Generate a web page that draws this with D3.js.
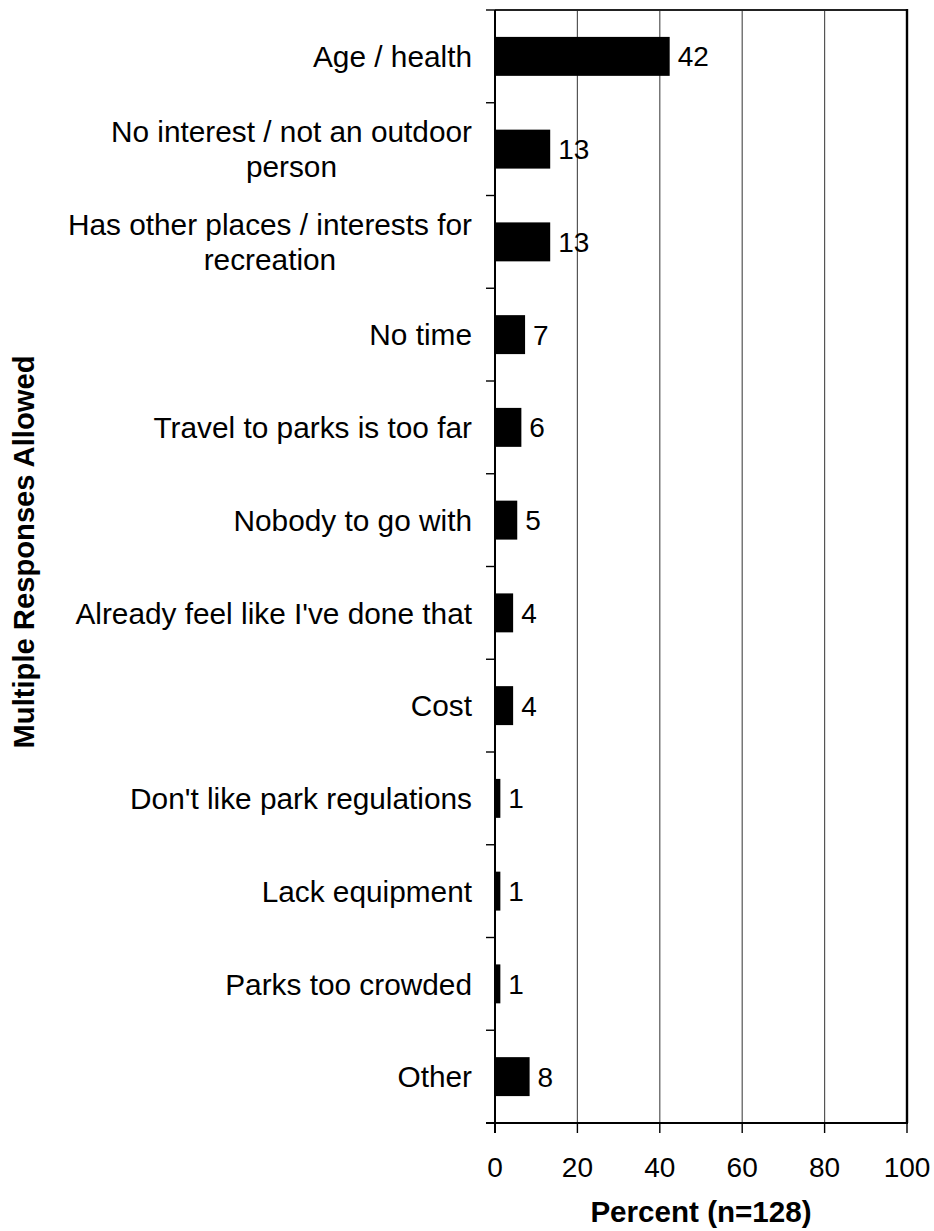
<!DOCTYPE html>
<html>
<head>
<meta charset="utf-8">
<script src="https://cdn.jsdelivr.net/npm/d3@7"></script>
<style>
  html, body { margin: 0; padding: 0; background: #fff; }
  svg { display: block; font-family: "Liberation Sans", Arial, sans-serif; }
</style>
</head>
<body>
<svg id="chart" width="934" height="1231"></svg>
<script>
const categories = [
  "Age / health",
  "No interest / not an outdoor\nperson",
  "Has other places / interests for\nrecreation",
  "No time",
  "Travel to parks is too far",
  "Nobody to go with",
  "Already feel like I've done that",
  "Cost",
  "Don't like park regulations",
  "Lack equipment",
  "Parks too crowded",
  "Other"
];
const values = [42.4, 13.4, 13.4, 7.3, 6.4, 5.4, 4.4, 4.4, 1.3, 1.3, 1.3, 8.4];
const valueLabels = ["42", "13", "13", "7", "6", "5", "4", "4", "1", "1", "1", "8"];
const xTicks = [0, 20, 40, 60, 80, 100];
const xTitle = "Percent (n=128)";
const yTitle = "Multiple Responses Allowed";

const svg = d3.select("#chart");
const m = { left: 495, right: 907, top: 10, bottom: 1123 };

const x = d3.scaleLinear().domain([0, 100]).range([m.left, m.right]);
const y = d3.scaleBand().domain(categories).range([m.top, m.bottom]).paddingInner(0.58).paddingOuter(0.29);
const band = d3.scaleBand().domain(categories).range([m.top, m.bottom]);

// gridlines
svg.append("g").selectAll("line").data(xTicks.filter(t => t > 0 && t < 100)).join("line")
  .attr("x1", d => x(d)).attr("x2", d => x(d))
  .attr("y1", m.top).attr("y2", m.bottom)
  .attr("stroke", "#555").attr("stroke-width", 1.2);

// top border
svg.append("line").attr("x1", m.left).attr("x2", m.right).attr("y1", m.top).attr("y2", m.top)
  .attr("stroke", "#222").attr("stroke-width", 1.8);
// right border
svg.append("line").attr("x1", m.right).attr("x2", m.right).attr("y1", m.top - 1).attr("y2", m.bottom)
  .attr("stroke", "#000").attr("stroke-width", 2.4);

// bars
svg.append("g").selectAll("rect").data(categories).join("rect")
  .attr("x", x(0))
  .attr("y", d => y(d))
  .attr("width", (d, i) => x(values[i]) - x(0))
  .attr("height", y.bandwidth())
  .attr("fill", "#000");

// value labels
svg.append("g").selectAll("text").data(categories).join("text")
  .attr("x", (d, i) => x(values[i]) + 8)
  .attr("y", d => y(d) + y.bandwidth() / 2)
  .attr("dy", "0.36em")
  .attr("font-size", 28)
  .attr("fill", "#000")
  .text((d, i) => valueLabels[i]);

// y axis line and ticks at band boundaries
const yBounds = categories.map(c => band(c)).concat([m.bottom]);
svg.append("g").selectAll("line").data(yBounds.slice(0, -1)).join("line")
  .attr("x1", m.left - 9).attr("x2", m.left)
  .attr("y1", d => d).attr("y2", d => d)
  .attr("stroke", "#000").attr("stroke-width", 1.4);
svg.append("line").attr("x1", m.left).attr("x2", m.left).attr("y1", m.top).attr("y2", m.bottom + 10)
  .attr("stroke", "#000").attr("stroke-width", 2);

// x axis
svg.append("line").attr("x1", m.left - 9).attr("x2", m.right + 1).attr("y1", m.bottom).attr("y2", m.bottom)
  .attr("stroke", "#000").attr("stroke-width", 2);
svg.append("g").selectAll("line").data(xTicks).join("line")
  .attr("x1", d => x(d)).attr("x2", d => x(d))
  .attr("y1", m.bottom).attr("y2", m.bottom + 10)
  .attr("stroke", "#000").attr("stroke-width", 1.4);
svg.append("g").selectAll("text").data(xTicks).join("text")
  .attr("x", d => x(d)).attr("y", 1177)
  .attr("text-anchor", "middle")
  .attr("font-size", 28)
  .text(d => d);

// category labels
const labelRight = 472;
const lineH = 35;
const catFont = 29.8;
categories.forEach(c => {
  const lines = c.split("\n");
  const cy = band(c) + band.bandwidth() / 2;
  const t = svg.append("text")
    .attr("font-size", catFont)
    .attr("fill", "#000");
  if (lines.length === 1) {
    t.attr("x", labelRight).attr("y", cy).attr("dy", "0.36em")
      .attr("text-anchor", "end").text(lines[0]);
  } else {
    const tmp = svg.append("text").attr("font-size", catFont);
    const widths = lines.map(l => { tmp.text(l); return tmp.node().getComputedTextLength(); });
    tmp.remove();
    const maxW = d3.max(widths);
    const cx = labelRight - maxW / 2;
    t.attr("text-anchor", "middle");
    lines.forEach((l, i) => {
      t.append("tspan").attr("x", cx)
        .attr("y", cy + (i - (lines.length - 1) / 2) * lineH)
        .attr("dy", "0.36em").text(l);
    });
  }
});

// axis titles
svg.append("text").attr("x", x(50)).attr("y", 1222)
  .attr("text-anchor", "middle").attr("font-size", 29.6).attr("font-weight", "bold")
  .text(xTitle);
svg.append("text").attr("transform", "translate(34,552) rotate(-90)")
  .attr("text-anchor", "middle").attr("font-size", 29.2).attr("font-weight", "bold")
  .text(yTitle);
</script>
</body>
</html>
